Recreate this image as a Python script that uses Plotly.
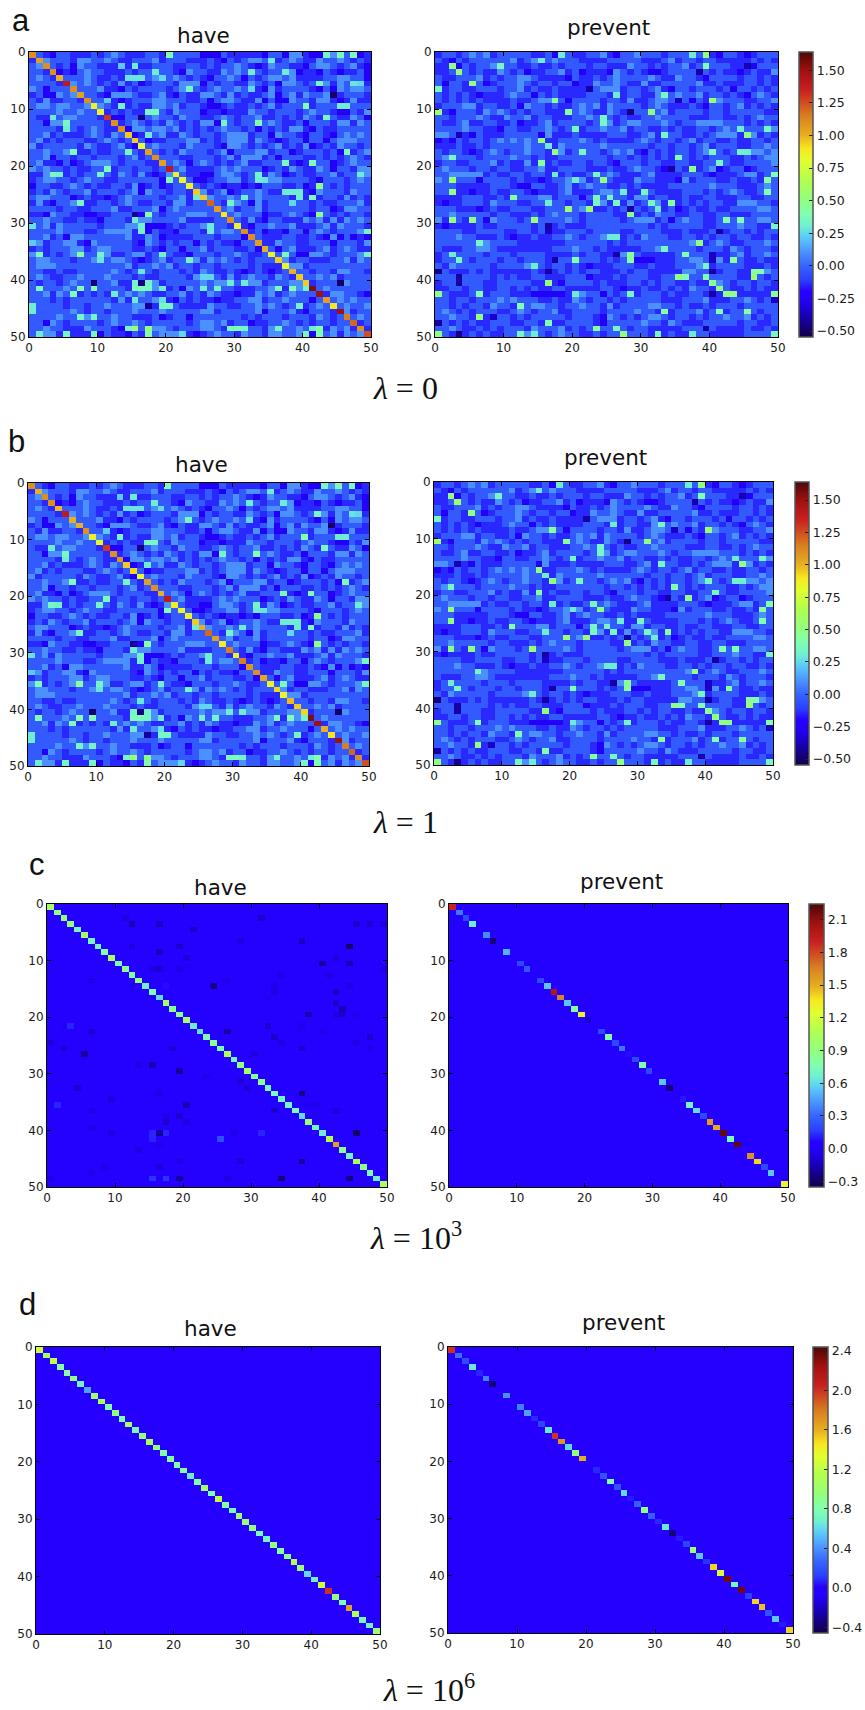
import plotly.graph_objects as go

W, H = 865, 1710
TICKS = [0, 10, 20, 30, 40, 50]
CELL_CENTRES = [i + 0.5 for i in range(50)]

# Hand-read colour levels of the cluttered background cells in panels a and b.
# These are coarse visual estimates, one digit per cell, not exact readings.
LEVELS = {"1": -0.26, "2": -0.14, "3": -0.03, "4": 0.1, "5": 0.22}

have_noise = """
3321332223 2343222332 4333311132 2222133144 2114433412
2243332443 3432233342 3332223213 2344322343 2243343232
3423231433 2225242233 3223323233 4321243322 1344323421
3322121343 3222323343 3214332243 4333233341 2213212231
3432233343 2232442342 3432321334 3132344342 2223344331
3333224343 2324231233 3244413233 2243231443 2314243332
4313332333 4221323333 2344323433 4322142333 3213143443
2311434333 2144432234 2132244324 2322341342 4334423332
3242233243 3421233344 3332231344 3224131143 3244212422
3443443343 4322232244 3423321123 2232342333 3233344333
3333433433 3232322333 2433312212 2243323332 3433211324
3223344333 2311331343 3243322343 2334223232 4321322431
3314443333 3232343232 4323244143 2333343223 1333244243
3333233234 3222144344 3423232343 3231323244 2132233333
3342322234 3243212134 2243233234 4423314332 1332134343
3423233322 3432343122 3334423234 4424321233 1331344433
4233333243 2234212343 3324333214 4323234232 4123243323
3343343223 2233132332 3243332341 3334423312 3332314234
3341332332 3332342323 3322333234 2444231333 2232323432
3422131234 4432333223 3431343232 3422333321 2233123433
4343323223 3223323323 3342222343 4333123243 2243133244
2243323233 3324324212 4332211344 3234243123 2233423334
2344332343 3223333331 3333112334 4233344333 3213332343
1332234323 2233241231 2334323212 2121333223 1223232333
2324323342 3332341433 2332342341 2334322233 2143332433
3443331232 2123433332 3342334334 3334333323 2323324232
2421334322 3323432233 2442334322 4314233323 3232233342
3333233223 3342233341 3433333434 2334233333 3233124433
2214332211 2233331332 3334443333 4333122343 2123232332
3343322322 1333234433 3342222332 3242133222 4342424343
4342433333 2333443111 2323343332 2213343342 2234243332
3333433322 3444423132 2133322344 3323122133 1343233344
3342314433 3333422431 2222333233 3133222332 2321413121
4423344214 3333321432 3233132322 1333224332 2333133324
2323334423 4433322321 3313342333 2231331342 2234234322
4323234333 4422344231 3221333233 4322323231 1443233344
3443332334 3344321234 2332424343 2323333423 3222334243
3444333333 3333423343 4233233233 3323222344 2333333333
3322322333 3343232323 3323243223 2123212333 3233244332
3432233433 3433323223 3332442324 2343324322 3343423333
3233234332 3342232342 3333343443 3344233344 2233334333
3333343333 3333233344 2314333433 2223344234 3234333333
3342433232 3243434322 3342324322 1224342343 3332443321
3332323333 3324233343 2132322122 3344233433 3133343433
4333323323 3433344222 2322224332 2334343233 2343334334
4333334323 3233343334 3333344233 3334133342 1333244233
3333433343 3343322231 2331333333 3232333233 3243232343
3314323333 2343343233 3332344342 3312233432 3233233323
3343322243 3321133244 3233344323 1333244334 3332434232
3344232223 1322132334 4432123433 2433244334 2133424344
"""

have_out_rows = [0,0,0,0,1,2,3,3,3,4,4,4,4,5,5,5,6,6,7,9,9,9,9,8,10,10,11,11,11,12,12,12,13,14,17,17,17,19,19,20,21,21,21,21,21,22,22,22,23,24,24,24,25,25,25,25,26,26,26,28,28,28,29,30,31,30,30,31,31,33,35,35,35,35,35,35,36,36,38,39,39,40,40,40,40,40,40,40,41,41,41,41,41,41,41,41,41,41,41,41,42,42,43,43,44,44,44,44,45,44,46,46,48,48,48,48,48,48,48,48,48,49,49,49,49,49,49,49]
have_out_cols = [20,43,45,47,35,15,18,32,37,14,15,16,19,42,47,48,23,32,44,40,13,45,46,11,17,18,16,3,43,5,33,28,5,17,6,14,46,37,41,11,3,4,10,33,48,20,33,34,42,37,38,39,39,41,31,24,7,29,38,15,17,42,15,16,16,0,26,26,49,0,1,7,10,19,37,49,23,10,16,25,26,9,16,45,29,31,15,17,1,7,9,15,16,17,19,25,27,36,38,40,6,12,15,19,17,19,20,0,0,39,7,9,14,15,17,29,30,31,36,41,42,1,5,9,17,22,40,42]
have_out_vals = [.38,.35,.38,.38,.3,.3,.3,.3,.3,.28,.28,.28,.25,.35,.28,.25,.35,.25,-.5,.4,.33,.3,.3,.22,.35,.35,-.45,.3,.35,.35,.4,.35,.3,.3,.38,.35,.38,.38,.38,.38,.35,.32,.33,.33,.3,.4,.3,.28,.5,.3,.3,.3,.3,.38,.3,.3,.35,.33,.25,-.42,.42,.5,.3,.32,.32,.27,.3,.3,.33,.22,.38,.45,.33,.32,.36,.35,.33,.28,.28,.25,.25,-.48,-.45,-.5,.3,.3,.33,.33,.38,.4,.38,.38,.38,.35,.3,.32,.33,.38,.4,.33,.38,.3,.3,.27,-.42,.35,.35,.3,.3,.33,.35,.33,.35,.55,.5,.38,.38,.33,.33,.3,.42,.3,.35,.35,.42,.25,.35,.4]

prevent_noise = """
2332343423 3333223123 2233421334 3332333334 2133212333
3213233333 3423433433 3222233333 2223423323 3222223232
2221323343 3322322323 3323322243 3232334234 3332211333
2232323224 3231223342 3122214323 2112333323 2322123224
3223334232 3344322221 3223234333 3432243321 3333233232
3133223123 3343233233 1224334322 4223333342 2322233232
3233223332 3342322322 2213444233 2342133233 3231332323
3232321222 3433132322 2233323233 2242343342 3323213432
3232323222 2322344231 3333233242 2344323132 3433322334
2333442332 2314332322 3434243333 2343222321 3323423232
3213332434 3232332223 3432243223 3434233332 3323333322
3323334322 4334233222 3343232322 3343333222 3322323433
3223422332 2312234233 3323342344 3334323344 4433323232
3333433221 3322334323 3233433423 3223232233 2343233334
4431213222 3333314222 3222233322 3423332232 3444234232
1213233234 3434322233 3432322223 4323323423 3223223323
2223223233 3334332243 3333433333 3233233234 2333223343
3233212343 2334332342 3233234342 1323233234 3323244434
3423332333 3433232233 3333323323 2323243232 3332232344
2332233342 3224232322 3323321333 2332233223 3232233334
3433323323 3223342233 3322232234 3321332323 4123312333
3344444232 2332332423 2233343222 3422223332 1222344233
4323331333 3232212334 3423332224 3322214233 3223223233
3332222233 3211332234 2343322323 2222333333 4333222343
3332212232 2332122234 2223443422 3322223332 3234322323
2222333223 2233344233 3134343324 4233223223 3222332233
2122333243 3322334332 3323423242 3342423232 3322444332
3332221232 2333223333 3432232333 2332312322 3223333443
3343333323 3222323433 3233332232 3243322332 2332223333
4223223143 3323433334 3233333234 4423134332 2323333443
2122223223 3333233232 2233333333 3232333332 2333433222
3333223333 2233233223 3323333223 3332223222 3223323233
3334332223 2122322334 3233443232 4333223323 2332332232
3333333433 3322222223 3333323233 3333333432 3432233343
3222334432 2222222333 4332322222 3344333323 3324323332
2343333233 3233332222 3233223423 2222233333 3223423343
2332323332 3323332433 3333232321 1122233443 3422322322
3243333323 3334332332 3212223332 2322233343 2333322232
1322232322 2222322232 3233222323 3222224433 2233223343
3332333323 2322332223 3312223233 3223323333 3333223323
2332333223 3333223213 3332322233 2323322322 3432332332
2233233223 3232322332 2222332122 3223232433 2232232322
3322232233 3222111112 3433132322 3332322332 3223222223
3323323334 3433322322 4323323233 3332223334 2223343232
3323233243 3233443323 3433242333 3443323223 2333233333
3432323332 2343233422 3333233334 3323233342 3323333233
3343322223 3232333332 3332143232 3443233232 3343342323
2323232233 3223322223 3332133333 4332432223 3333233223
3343223232 3332433342 3232333323 3222223332 3222232232
3323232322 3344232343 3223233333 3232322333 2222233332
"""

prevent_out_rows = [2,3,5,2,6,10,1,0,0,0,2,8,10,10,8,7,7,11,12,13,13,13,14,14,15,16,17,17,17,17,17,18,18,19,20,19,21,21,21,22,24,22,22,22,24,24,24,25,25,26,25,26,26,26,26,27,27,10,27,28,27,29,29,29,29,29,30,31,30,32,32,33,33,34,35,36,35,35,36,36,36,36,35,35,36,38,37,38,38,37,39,40,39,39,39,39,38,38,40,40,41,42,42,42,42,42,42,42,42,44,43,45,45,45,46,46,47,47,48,49,49,49,49,49,49,49,49,48,48,31,20,3,2,8,6,14]
prevent_out_cols = [2,3,5,9,0,0,15,18,39,37,39,17,19,31,40,33,26,24,24,20,48,44,45,33,15,16,17,21,40,44,45,35,2,15,37,41,17,23,49,2,2,24,20,48,48,27,30,11,23,23,25,16,26,31,34,19,22,28,32,28,28,2,5,14,42,44,16,16,49,25,26,38,6,33,28,28,36,26,3,20,43,17,40,2,40,0,14,16,40,39,3,3,35,36,39,46,46,47,16,40,41,42,43,40,49,0,6,28,20,12,49,33,45,41,6,8,0,16,23,0,3,27,12,14,32,37,49,39,26,41,34,38,45,35,22,3]
prevent_out_vals = [.5,.55,.5,.35,.35,.55,.3,.3,.5,.3,.4,.45,.45,.5,.55,.35,.3,.35,.35,.35,.35,.3,.5,.35,.5,.3,.5,.35,.35,.32,.3,.4,.35,.45,.5,.35,.3,.35,.4,.55,.5,.5,.3,.45,.4,.3,.35,.45,.35,.35,.35,.3,.35,.35,.45,.55,.55,-.45,.3,.5,-.4,.5,.5,.55,.4,.4,-.4,-.35,.35,.3,.3,.5,.35,.35,.45,.45,.4,-.4,.35,.4,.45,-.4,-.35,.3,-.35,-.45,.3,-.4,-.4,.35,-.4,-.4,.5,.4,.4,.55,.45,.4,.5,.45,.5,.5,.5,-.4,.45,.5,.4,.35,.3,.4,-.35,.45,.45,.4,.5,-.35,-.4,.4,.45,.5,-.45,.5,.35,.3,.35,.3,.35,-.4,.35,-.4,-.4,-.4,-.38,-.35,-.4,-.38]

a_have_diag = [1.1,1.05,1.1,1.1,1.0,1.4,1.1,1.05,1.1,.85,.85,1.3,1.1,1.1,.95,.95,.8,1.05,1.1,1.05,1.4,.85,.85,.85,.95,.95,1.2,1.05,.9,1.1,.85,1.1,1.1,1.05,1.0,.85,.95,.85,1.0,.95,.95,1.55,1.5,1.05,.9,1.5,1.15,1.2,1.1,1.25]
b_have_diag = [1.1,1.0,1.1,1.1,.98,1.4,1.0,1.0,1.1,.85,.83,1.3,1.1,1.08,.95,.93,.82,1.05,1.1,1.0,1.4,.88,.85,.85,.95,1.0,1.2,1.05,.88,1.15,.85,1.15,1.08,1.1,1.03,.85,.93,.85,.98,.95,.93,1.55,1.5,1.0,.9,1.5,1.15,1.2,1.1,1.25]

c_have_diag = [1.0,.9,.9,.9,.7,1.0,.7,.7,.8,1.05,.75,.85,.8,.95,.65,.75,.6,1.0,.85,.85,1.0,.65,.6,.75,.85,.75,1.05,.7,.9,1.0,.8,.85,.7,.75,.7,.7,.75,.6,.95,.7,.65,1.1,1.55,.85,.7,1.05,.85,.75,.65,1.05]
c_prevent_diag = [1.9,.35,.2,.65,0,.4,-.25,0,.5,0,.2,.25,0,.2,.55,2.0,1.65,.55,.8,1.3,-.1,0,.2,.8,.2,.35,.08,.2,.8,.2,0,.55,-.25,.03,.1,.7,.6,.2,1.55,1.5,2.2,.75,2.2,.07,1.6,1.4,.2,.55,0,1.3]
d_have_diag = [1.25,1.05,1.2,.85,.85,.95,.7,.45,1.0,1.1,.8,.95,.8,1.05,.75,.95,1.1,.95,.8,.85,.8,.85,.65,.85,1.05,.8,1.2,.8,.75,1.0,1.0,.95,.75,.7,.95,.85,.9,1.15,1.0,.6,.7,1.25,2.0,.95,.8,1.65,1.1,.75,.7,1.0]
d_prevent_diag = [2.0,.3,.18,.65,.07,.35,-.35,0,.4,0,.35,.45,.08,.15,.65,2.0,1.7,.6,.95,1.6,0,.08,.2,.8,.2,.6,.05,.25,.9,.25,.08,.65,-.35,.05,.15,1.0,.55,.1,1.5,1.3,2.35,.75,2.35,.12,1.5,1.55,.2,.55,.05,1.5]

c_have_rows = [3,3,2,2,4,3,3,3,6,6,7,7,7,7,8,9,10,10,9,11,11,11,11,12,12,13,13,14,14,14,14,14,15,15,16,17,18,19,19,19,19,21,21,21,21,22,22,22,23,23,24,24,24,25,25,25,25,25,26,26,27,28,28,29,30,30,31,32,32,33,33,34,35,35,35,35,36,36,36,37,37,38,38,38,39,40,40,40,40,40,40,40,41,41,42,43,45,45,45,45,46,46,47,48,48,48,48,48,48,48]
c_have_cols = [12,16,11,31,21,45,47,49,37,28,44,37,12,19,16,20,40,44,42,16,15,19,49,34,41,6,26,24,17,12,44,33,33,42,32,42,43,38,42,43,45,3,2,32,37,6,26,40,33,47,0,34,45,2,18,37,41,47,5,30,34,15,13,19,16,23,28,4,29,16,37,9,1,20,38,39,6,33,42,19,17,17,12,20,6,9,15,16,17,31,45,27,15,25,16,13,0,19,28,37,16,8,6,15,17,19,34,44,26,0]
c_have_vals = [-.15,-.12,-.06,-.1,-.12,-.1,-.08,-.06,-.12,-.06,-.3,.03,-.06,-.1,-.12,-.08,-.2,-.15,-.08,-.1,-.05,-.05,-.05,-.05,-.05,-.06,-.05,-.22,.08,-.04,-.05,-.05,-.05,-.12,-.03,-.1,-.15,-.15,-.07,-.1,-.04,.12,-.03,-.1,-.05,-.1,-.18,-.04,-.1,-.1,-.06,-.05,-.05,-.1,-.08,-.1,.02,-.05,-.2,-.06,.04,-.15,-.05,-.2,.03,-.05,-.08,-.1,-.08,-.06,-.25,-.08,.12,-.15,-.04,-.04,-.05,-.1,-.1,-.1,-.05,-.1,.03,-.06,-.05,-.06,.12,-.2,.12,.12,-.28,-.05,.12,.22,-.04,-.06,.03,-.05,-.1,-.2,-.07,-.05,-.05,.15,.15,-.2,-.25,-.25,-.06,-.05]

a_cb_ticks = [-0.5,-0.25,0,0.25,0.5,0.75,1.0,1.25,1.5]
a_cb_text = ["−0.50","−0.25","0.00","0.25","0.50","0.75","1.00","1.25","1.50"]
c_cb_ticks = [-0.3,0,0.3,0.6,0.9,1.2,1.5,1.8,2.1]
c_cb_text = ["−0.3","0.0","0.3","0.6","0.9","1.2","1.5","1.8","2.1"]
d_cb_ticks = [-0.4,0,0.4,0.8,1.2,1.6,2.0,2.4]
d_cb_text = ["−0.4","0.0","0.4","0.8","1.2","1.6","2.0","2.4"]

COLORSCALE = [[0,"#120048"],[.09,"#1a00c8"],[.135,"#2400ff"],[.16,"#2600ff"],[.2,"#2a40ff"],[.25,"#3564ff"],
              [.296,"#4a90ff"],[.33,"#55b4ff"],[.364,"#62d8f0"],[.39,"#70f0d0"],[.433,"#80ffb0"],
              [.478,"#90ff80"],[.55,"#b0ff50"],[.616,"#e0ff30"],[.66,"#f8e820"],[.707,"#e8b020"],
              [.775,"#d88020"],[.82,"#d05020"],[.867,"#c82020"],[.935,"#a01010"],[1,"#4a0808"]]
FONT = "DejaVu Sans"
TEXT = "#1a1a1a"


def noise_matrix(text, rows, cols, vals):
    lines = [l.replace(" ", "") for l in text.strip().splitlines()]
    m = [[LEVELS[ch] for ch in l.ljust(50, "3")[:50]] for l in lines]
    for r, c, v in zip(rows, cols, vals):
        m[r][c] = v
    return m


def with_diag(base, diag):
    m = [list(r) for r in base]
    for i, v in enumerate(diag):
        m[i][i] = v
    return m


def sparse(diag, rows=(), cols=(), vals=()):
    m = [[0.0] * 50 for _ in range(50)]
    for r, c, v in zip(rows, cols, vals):
        m[r][c] = v
    for i, v in enumerate(diag):
        m[i][i] = v
    return m


have_base = noise_matrix(have_noise, have_out_rows, have_out_cols, have_out_vals)
prevent_base = noise_matrix(prevent_noise, prevent_out_rows, prevent_out_cols, prevent_out_vals)

# z, (left, right, top, bottom) px, zmin, zmax, colourbar
panels = [
    (with_diag(have_base, a_have_diag), (29, 371, 52, 337), -0.546, 1.64, None),
    (prevent_base, (435, 778, 52, 337), -0.546, 1.64, ((799, 813), a_cb_ticks, a_cb_text)),
    (with_diag(have_base, b_have_diag), (28, 369, 483, 766), -0.546, 1.64, None),
    (prevent_base, (434, 773, 482, 765), -0.546, 1.64, ((795, 809), a_cb_ticks, a_cb_text)),
    (sparse(c_have_diag, c_have_rows, c_have_cols, c_have_vals), (47, 387, 904, 1187), -0.352, 2.244, None),
    (sparse(c_prevent_diag), (449, 788, 904, 1187), -0.352, 2.244, ((809, 824), c_cb_ticks, c_cb_text)),
    (sparse(d_have_diag), (36, 380, 1347, 1634), -0.457, 2.437, None),
    (sparse(d_prevent_diag), (448, 793, 1347, 1633), -0.457, 2.437, ((813, 828), d_cb_ticks, d_cb_text)),
]

fig = go.Figure()
layout = {}
for i, (z, (l, r, t, b), zmin, zmax, cb) in enumerate(panels, start=1):
    suffix = "" if i == 1 else str(i)
    trace = dict(z=z, x=CELL_CENTRES, y=CELL_CENTRES, zmin=zmin, zmax=zmax, colorscale=COLORSCALE,
                 xaxis=f"x{suffix}", yaxis=f"y{suffix}", showscale=cb is not None, hoverinfo="skip")
    if cb is not None:
        (cl, cr), ticks, labels = cb
        trace["colorbar"] = dict(
            x=cl / W, xanchor="left", xref="paper", xpad=0, ypad=0,
            y=1 - (t + b) / 2 / H, yanchor="middle", yref="paper",
            len=(b - t) / H, lenmode="fraction", thickness=cr - cl, thicknessmode="pixels",
            tickmode="array", tickvals=ticks, ticktext=labels, ticks="inside", ticklen=4,
            tickcolor="#222", outlinecolor="#555", outlinewidth=1.5,
            tickfont=dict(family=FONT, size=12.5, color=TEXT))
    fig.add_trace(go.Heatmap(**trace))
    common = dict(tickmode="array", tickvals=TICKS, ticks="inside", ticklen=4, tickcolor="black",
                  showline=True, linecolor="black", linewidth=1, mirror="ticks", showgrid=False,
                  zeroline=False, tickfont=dict(family=FONT, size=12, color=TEXT))
    layout[f"xaxis{suffix}"] = dict(domain=[l / W, r / W], range=[0, 50], anchor=f"y{suffix}", **common)
    layout[f"yaxis{suffix}"] = dict(domain=[1 - b / H, 1 - t / H], range=[50, 0], anchor=f"x{suffix}", **common)

titles = [("have", 203, 35), ("prevent", 608, 27), ("have", 201, 465), ("prevent", 605.7, 457.7),
          ("have", 220, 887), ("prevent", 621, 881), ("have", 210, 1328), ("prevent", 623, 1322)]
letters = [("a", 21, 20), ("b", 16, 441), ("c", 37, 864), ("d", 28, 1304)]
lambdas = [("<i>λ</i> = 0", 405, 388), ("<i>λ</i> = 1", 405, 822),
           ("<i>λ</i> = 10<sup>3</sup>", 416, 1236), ("<i>λ</i> = 10<sup>6</sup>", 429, 1688)]


def note(text, x, y, family, size):
    fig.add_annotation(text=text, x=x / W, y=1 - y / H, xref="paper", yref="paper", showarrow=False,
                       xanchor="center", yanchor="middle", font=dict(family=family, size=size, color="#111"))


for text, x, y in titles:
    note(text, x, y, FONT, 21.5)
for text, x, y in letters:
    note(text, x, y, "Liberation Sans", 31)
for text, x, y in lambdas:
    note(text, x, y, "Liberation Serif", 32)

fig.update_layout(width=W, height=H, margin=dict(l=0, r=0, t=0, b=0, autoexpand=False),
                  paper_bgcolor="white", plot_bgcolor="white", **layout)
fig.write_html("out.html", config={"displayModeBar": False},
               post_script="document.body.style.margin='0';")
